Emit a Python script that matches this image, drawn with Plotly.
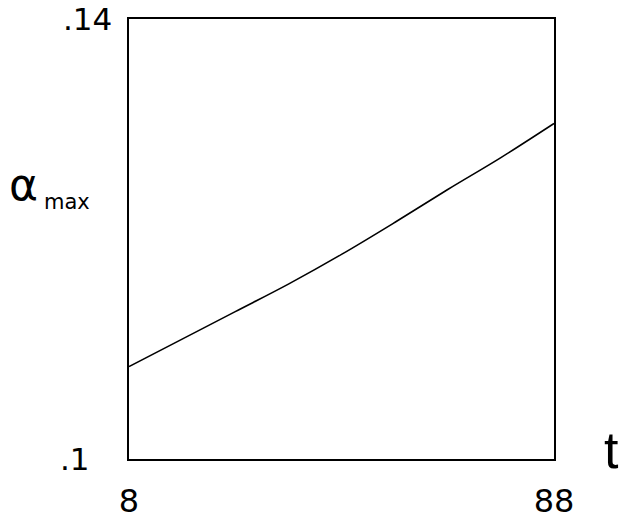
import plotly.graph_objects as go

# alpha_max as a function of t
t_vals = [8, 18, 28, 38, 48, 58, 68, 78, 88]
alpha_max = [0.1084, 0.1109, 0.1134, 0.1159, 0.1186, 0.1215, 0.1245, 0.1274, 0.1305]

x_ticks = [8, 88]
x_tick_text = ["8", "88"]
y_ticks = [0.1, 0.14]
y_tick_text = [".1", ".14"]
y_label_x = [-0.127, -0.097]   # label centres, in plot-width fractions

FONT = "DejaVu Sans, sans-serif"

fig = go.Figure()
fig.add_trace(go.Scatter(
    x=t_vals, y=alpha_max, mode="lines",
    line=dict(color="black", width=1.6, shape="spline"),
    showlegend=False, hoverinfo="skip",
))

axis_common = dict(
    showgrid=False, zeroline=False, showline=True, mirror=True,
    linecolor="black", linewidth=2, ticks="", automargin=False,
)

fig.update_xaxes(
    range=[8, 88], tickvals=x_ticks, ticktext=x_tick_text,
    tickfont=dict(family=FONT, size=32, color="black"),
    ticklabelstandoff=13, **axis_common,
)
fig.update_yaxes(
    range=[0.1, 0.14], tickvals=y_ticks, ticktext=["", ""],
    **axis_common,
)

annotations = []
for v, s, px in zip(y_ticks, y_tick_text, y_label_x):
    annotations.append(dict(
        x=px, xref="paper", y=v, yref="y", text=s, showarrow=False,
        xanchor="center", yanchor="middle",
        font=dict(family=FONT, size=31, color="black"),
    ))
# axis titles
annotations.append(dict(
    x=-0.288, xref="paper", y=0.623, yref="paper", text="α", showarrow=False,
    xanchor="left", yanchor="middle",
    font=dict(family=FONT, size=44, color="black"),
))
annotations.append(dict(
    x=-0.205, xref="paper", y=0.585, yref="paper", text="max", showarrow=False,
    xanchor="left", yanchor="middle",
    font=dict(family=FONT, size=21, color="black"),
))
annotations.append(dict(
    x=1.112, xref="paper", y=0.02, yref="paper", text="t", showarrow=False,
    xanchor="left", yanchor="middle",
    font=dict(family="Liberation Sans, sans-serif", size=52, color="black"),
))

fig.update_layout(
    width=620, height=520,
    margin=dict(l=129, r=66, t=19, b=61),
    paper_bgcolor="white", plot_bgcolor="white",
    annotations=annotations,
)

fig.write_html("out.html")
